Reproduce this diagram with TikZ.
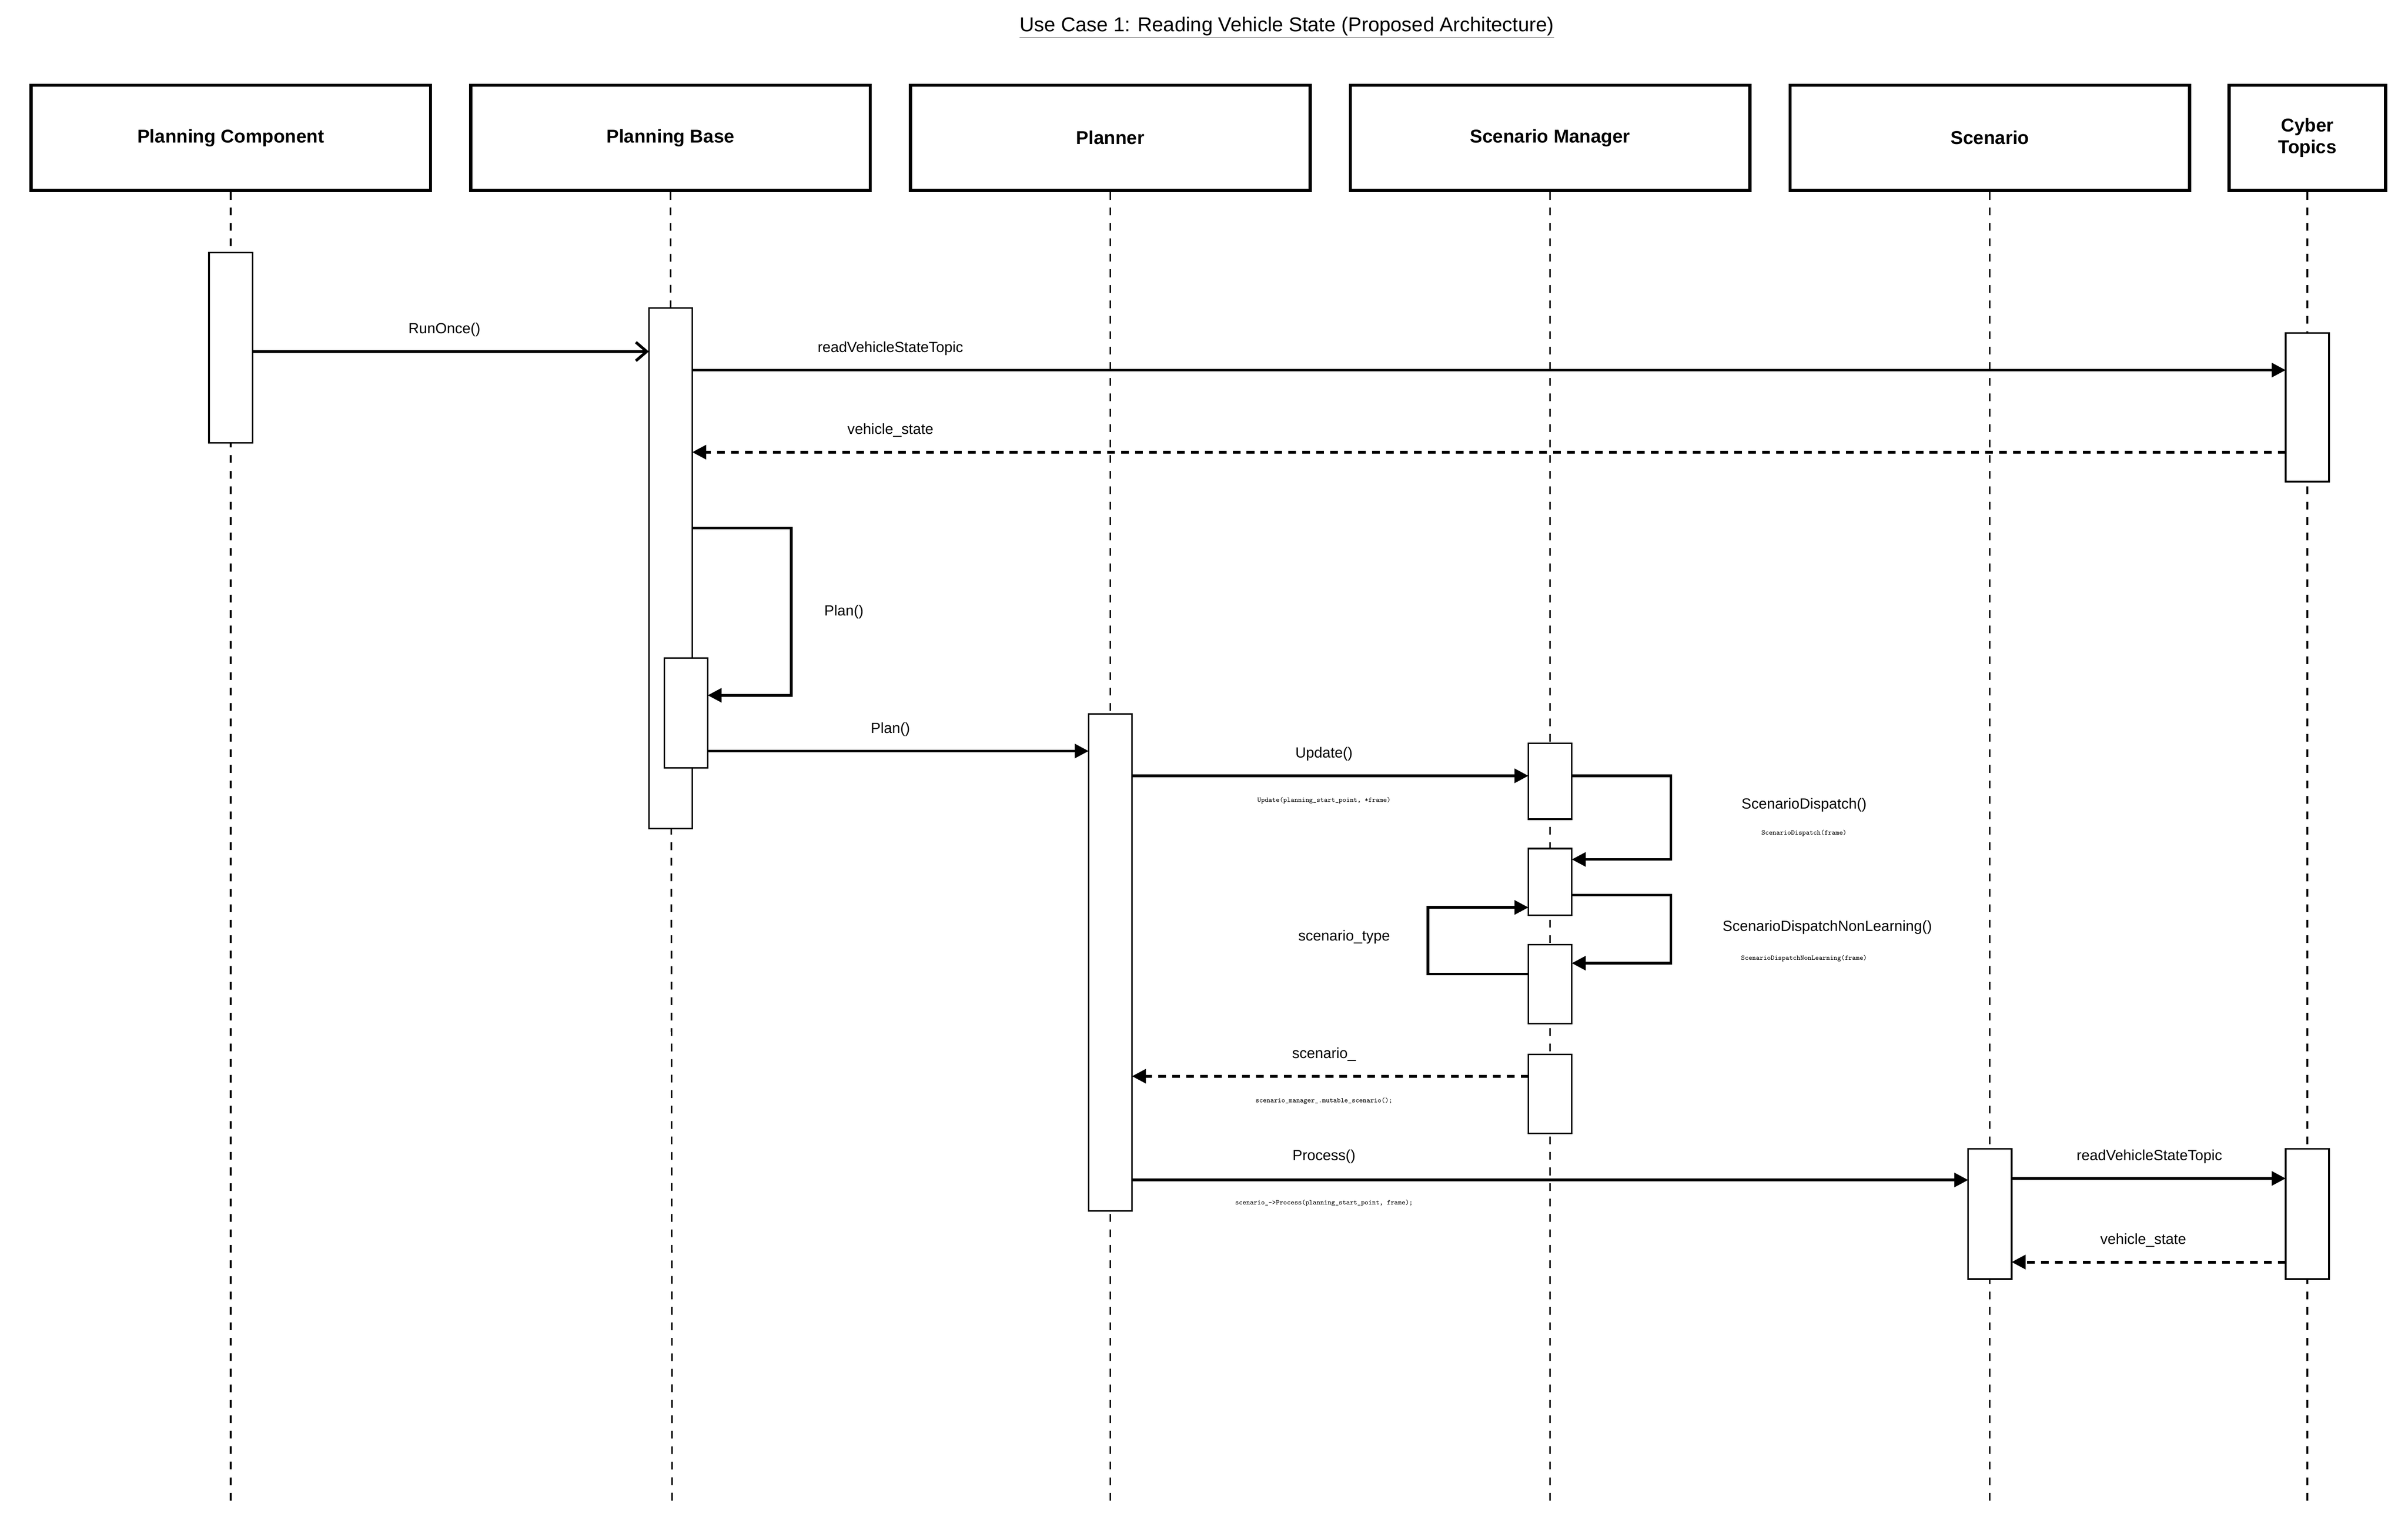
\documentclass[tikz,border=0pt]{standalone}
\usepackage{fontspec}
\setmainfont{Liberation Sans}
\usetikzlibrary{arrows.meta}
\begin{document}
\begin{tikzpicture}[x=1pt,y=-1pt,
  head/.style={draw,line width=2pt,fill=white,minimum height=68pt,font=\bfseries\fontsize{12}{14}\selectfont,align=center},
  act/.style={draw,line width=1pt,fill=white},
  life/.style={dashed,line width=1pt,dash pattern=on 5pt off 5pt},
  msg/.style={line width=1.8pt,-{Triangle[length=9pt,width=9pt]}},
  ret/.style={msg,dash pattern=on 5pt off 4pt},
  lbl/.style={font=\fontsize{9.5}{11}\selectfont},
  sm/.style={font=\ttfamily\fontsize{4.5}{5}\selectfont}]
\useasboundingbox (0,0) rectangle (1555,988);
\node[font=\fontsize{13}{15}\selectfont] (t) at (831,18) {\underline{Use Case 1: Reading Vehicle State (Proposed Architecture)}};
\node[head,minimum width=258pt] (h1) at (149,89) {Planning Component};
\node[head,minimum width=258pt] (h2) at (433,89) {Planning Base};
\node[head,minimum width=258pt] (h3) at (717,89) {Planner};
\node[head,minimum width=258pt] (h4) at (1001,89) {Scenario Manager};
\node[head,minimum width=258pt] (h5) at (1285,89) {Scenario};
\node[head,minimum width=101pt] (h6) at (1490,89) {Cyber\\Topics};
\foreach \x/\n in {149/1,434/2,717/3,1001/4,1285/5,1490/6}{
  \coordinate (e\n) at (\x,972);
  \draw[life] (h\n.south) -- (e\n);}
% activations
\draw[act] (135,163) rectangle (163,286);
\draw[act] (419,199) rectangle (447,535);
\draw[act] (429,425) rectangle (457,496);
\draw[act] (703,461) rectangle (731,782);
\draw[act] (987,480) rectangle (1015,529);
\draw[act] (987,548) rectangle (1015,591);
\draw[act] (987,610) rectangle (1015,661);
\draw[act] (987,681) rectangle (1015,732);
\draw[act] (1271,742) rectangle (1299,826);
\draw[act] (1476,215) rectangle (1504,311);
\draw[act] (1476,742) rectangle (1504,826);
% coordinates
\coordinate (a1) at (163,227); \coordinate (a2) at (419,227);
\coordinate (b1) at (447,239); \coordinate (b2) at (1476,239);
\coordinate (c1) at (1476,292); \coordinate (c2) at (447,292);
\coordinate (d1) at (447,341); \coordinate (d2) at (457,449);
\coordinate (f1) at (457,485); \coordinate (f2) at (703,485);
\coordinate (g1) at (731,501); \coordinate (g2) at (987,501);
\coordinate (i1) at (1015,501); \coordinate (i2) at (1015,555);
\coordinate (j1) at (1015,578); \coordinate (j2) at (1015,622);
\coordinate (k1) at (987,629); \coordinate (k2) at (987,586);
\coordinate (l1) at (987,695); \coordinate (l2) at (731,695);
\coordinate (m1) at (731,762); \coordinate (m2) at (1271,762);
\coordinate (n1) at (1299,761); \coordinate (n2) at (1476,761);
\coordinate (o1) at (1476,815); \coordinate (o2) at (1299,815);
\draw[line width=1.8pt,-{Straight Barb[length=7pt,width=12pt]}] (a1) -- (a2);
\draw[msg] (b1) -- (b2);
\draw[ret] (c1) -- (c2);
\draw[msg] (d1) -| (511,449) -- (d2);
\draw[msg] (f1) -- (f2);
\draw[msg] (g1) -- (g2);
\draw[msg] (i1) -| (1079,555) -- (i2);
\draw[msg] (j1) -| (1079,622) -- (j2);
\draw[msg] (k1) -| (922,586) -- (k2);
\draw[ret] (l1) -- (l2);
\draw[msg] (m1) -- (m2);
\draw[msg] (n1) -- (n2);
\draw[ret] (o1) -- (o2);
% labels
\node[lbl] (la) at (287,213) {RunOnce()};
\node[lbl] (lb) at (575,225) {readVehicleStateTopic};
\node[lbl] (lc) at (575,278) {vehicle\_state};
\node[lbl] (ld) at (545,395) {Plan()};
\node[lbl] (lf) at (575,471) {Plan()};
\node[lbl] (lg) at (855,487) {Update()};
\node[sm] (sg) at (855,517) {Update(planning\_start\_point, *frame)};
\node[lbl] (li) at (1165,520) {ScenarioDispatch()};
\node[sm] (si) at (1165,538) {ScenarioDispatch(frame)};
\node[lbl] (lj) at (1180,599) {ScenarioDispatchNonLearning()};
\node[sm] (sj) at (1165,619) {ScenarioDispatchNonLearning(frame)};
\node[lbl] (lk) at (868,605) {scenario\_type};
\node[lbl] (ll) at (855,681) {scenario\_};
\node[sm] (sl) at (855,711) {scenario\_manager\_.mutable\_scenario();};
\node[lbl] (lm) at (855,747) {Process()};
\node[sm] (smm) at (855,777) {scenario\_->Process(planning\_start\_point, frame);};
\node[lbl] (ln) at (1388,747) {readVehicleStateTopic};
\node[lbl] (lo) at (1384,801) {vehicle\_state};
\end{tikzpicture}
\end{document}
